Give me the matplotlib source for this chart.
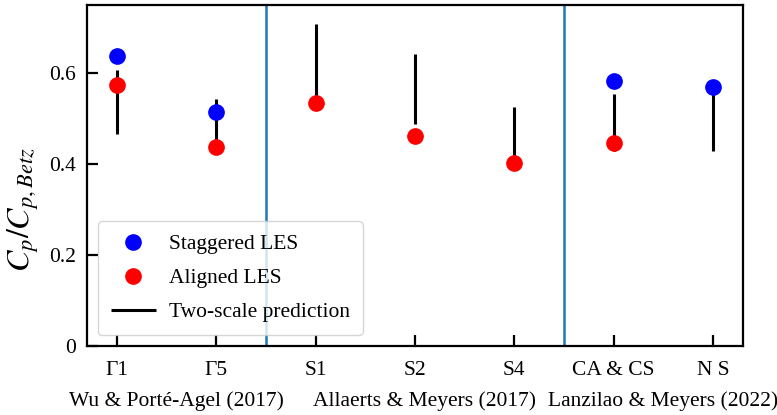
import matplotlib
matplotlib.use("Agg")
import matplotlib.pyplot as plt
import numpy as np

plt.rcParams["font.family"] = "serif"
plt.rcParams["font.serif"] = ["Liberation Serif", "DejaVu Serif"]
plt.rcParams["mathtext.fontset"] = "stix"

cases = ["Γ1", "Γ5", "S1", "S2", "S4", "CA & CS", "N S"]
staggered = [0.638, 0.514, np.nan, np.nan, np.nan, 0.583, 0.569]
aligned = [0.573, 0.438, 0.535, 0.462, 0.402, 0.447, np.nan]
pred_low = [0.466, 0.44, 0.535, 0.489, 0.40, 0.429, 0.429]
pred_high = [0.608, 0.543, 0.708, 0.642, 0.526, 0.554, 0.569]
groups = ["Wu & Porté-Agel (2017)", "Allaerts & Meyers (2017)", "Lanzilao & Meyers (2022)"]
group_pos = [0.6, 3.1, 5.5]
separators = [1.5, 4.5]

x = np.arange(len(cases))

fig = plt.figure(figsize=(7.77, 4.15), dpi=100)
ax = fig.add_axes([0.112, 0.166, 0.844, 0.822])

for s in separators:
    ax.axvline(s, color="#1f77b4", lw=1.8, zorder=1)

ax.vlines(x, pred_low, pred_high, color="k", lw=2.2, zorder=2, label="Two-scale prediction")
ax.plot(x, staggered, "o", color="blue", ms=11, zorder=3, label="Staggered LES")
ax.plot(x, aligned, "o", color="red", ms=11, zorder=3, label="Aligned LES")

ax.set_xlim(-0.3, 6.3)
ax.set_ylim(0, 0.75)
ax.set_xticks(x)
ax.set_xticklabels(cases)
ax.set_yticks([0, 0.2, 0.4, 0.6])
ax.set_yticklabels(["0", "0.2", "0.4", "0.6"])
ax.tick_params(direction="in", length=8, width=1.6, labelsize=15.5, pad=8)
ax.tick_params(axis="x", pad=11)
for sp in ax.spines.values():
    sp.set_linewidth(1.6)
ax.set_ylabel(r"$C_p/C_{p,Betz}$", fontsize=23)
ax.yaxis.set_label_coords(-0.07, 0.40)

for g, p in zip(groups, group_pos):
    ax.text(p, -0.16, g, transform=ax.get_xaxis_transform(), ha="center", va="center", fontsize=15.5)

h, l = ax.get_legend_handles_labels()
order = [1, 2, 0]
ax.legend([h[i] for i in order], [l[i] for i in order], loc="lower left", fontsize=15.5,
          borderaxespad=0.5, borderpad=0.6, handlelength=2.1, handletextpad=0.6,
          labelspacing=0.65)

fig.savefig("out.png", dpi=100)
